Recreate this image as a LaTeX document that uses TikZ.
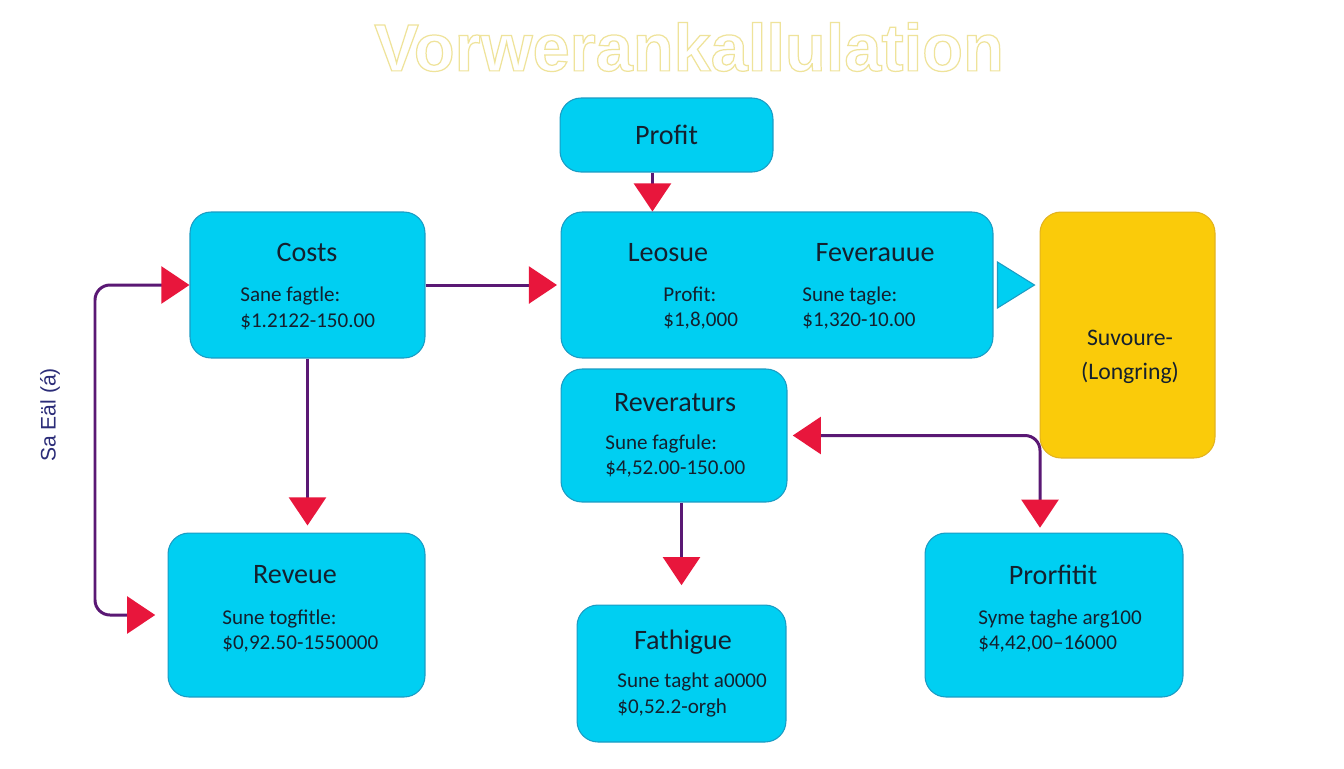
\documentclass[tikz,border=0pt]{standalone}
\usepackage{fontspec}
\setmainfont{Carlito}
\newfontfamily\titlefont{Liberation Sans}
\usetikzlibrary{arrows.meta,calc}
\definecolor{Ink}{HTML}{14202E}
\definecolor{BoxCyan}{HTML}{00CFF2}
\definecolor{BoxEdge}{HTML}{1A9CC4}
\definecolor{BoxGold}{HTML}{FACB0A}
\definecolor{GoldEdge}{HTML}{E3B31E}
\definecolor{Wire}{HTML}{5A1874}
\definecolor{Tip}{HTML}{E8163C}
\definecolor{Pale}{HTML}{EFE39A}
\definecolor{Side}{HTML}{2B2C78}
\newcommand{\hollow}[1]{\special{pdf:literal direct 1 Tr 0.7 w}#1\special{pdf:literal direct 0 Tr}}

\begin{document}
\begin{tikzpicture}[x=0.02cm,y=-0.02cm,
  box/.style={draw=BoxEdge,fill=BoxCyan,line width=0.6pt,rounded corners=0.42cm,inner sep=0pt},
  head/.style={font=\fontsize{16}{19}\selectfont,text=Ink,inner sep=0pt},
  sub/.style={font=\fontsize{12}{14.7}\selectfont,text=Ink,align=left,anchor=west,inner sep=0pt},
  wire/.style={Wire,line width=1.7pt,-{Triangle[length=16pt,width=21pt,color=Tip]}},
  wires/.style={Wire,line width=1.7pt,{Triangle[length=16pt,width=21pt,color=Tip]}-{Triangle[length=16pt,width=21pt,color=Tip]},rounded corners=0.3cm}]
\useasboundingbox[fill=white] (0,0) rectangle (1344,768);
\node[font=\titlefont\bfseries\fontsize{38}{40}\selectfont,text=Pale] (heading) at (689,47) {\hollow{Vorwerankallulation}};
\node[rotate=90,font=\titlefont\fontsize{12}{14}\selectfont,text=Side] (side) at (50,415) {Sa Eäl (á)};
% boxes
\node[box,minimum width=4.26cm,minimum height=1.48cm,font=\fontsize{16}{19}\selectfont,text=Ink] (profit) at (666.5,135) {Profit};
\node[box,minimum width=4.70cm,minimum height=2.92cm] (costs) at (307.5,285) {};
\node[box,minimum width=8.64cm,minimum height=2.92cm] (lease) at (777,285) {};
\node[box,draw=GoldEdge,fill=BoxGold,minimum width=3.50cm,minimum height=4.92cm] (store) at (1127.5,335) {};
\node[box,minimum width=4.52cm,minimum height=2.66cm] (rever) at (674,435.5) {};
\node[box,minimum width=5.14cm,minimum height=3.28cm] (reveue) at (296.5,615) {};
\node[box,minimum width=4.18cm,minimum height=2.74cm] (fathigue) at (681.5,673.5) {};
\node[box,minimum width=5.16cm,minimum height=3.28cm] (profitit) at (1054,615) {};
% texts
\node[head] (costs-t) at (307,252) {Costs};
\node[sub] (costs-s) at (240,308) {Sane fagtle:\\\$1.2122-150.00};
\node[head] (lease-t) at (668,253) {Leosue};
\node[head] (lease-u) at (875,253) {Feverauue};
\node[sub] (lease-s) at (663,308) {Profit:\\\$1,8,000};
\node[sub] (lease-v) at (802,308) {Sune tagle:\\\$1,320-10.00};
\node[font=\fontsize{13.5}{19}\selectfont,text=Ink,align=center,inner sep=0pt] (store-t) at (1130,357) {Suvoure-\\(Longring)};
\node[head] (rever-t) at (675,403) {Reveraturs};
\node[sub] (rever-s) at (605,456) {Sune fagfule:\\\$4,52.00-150.00};
\node[head] (reveue-t) at (295,575) {Reveue};
\node[sub] (reveue-s) at (222,631) {Sune togfitle:\\\$0,92.50-1550000};
\node[head] (fathigue-t) at (683,642) {Fathigue};
\node[sub] (fathigue-s) at (617,695) {Sune taght a0000\\\$0,52.2-orgh};
\node[head] (profitit-t) at (1053,575) {Prorfitit};
\node[sub] (profitit-s) at (978,631) {Syme taghe arg100\\\$4,42,00--16000};
% connectors
\coordinate (bend) at (95,615);
\coordinate (drop) at (1040,533);
\draw[wire] ([xshift=-8]profit.south) -- ([xshift=-8]profit.south |- lease.north);
\draw[wire,shorten >=2pt] (costs.east) -- (lease.west);
\draw[wire,shorten >=4pt] (costs.south) -- (costs.south |- reveue.north);
\draw[wires,shorten >=7pt] (costs.west) -| (bend) -- (reveue.west);
\draw[wire,shorten >=11pt] (fathigue.north |- rever.south) -- (fathigue.north);
\draw[wires,shorten <=3pt,shorten >=3pt] (rever.east) -| (drop);
\filldraw[fill=BoxCyan,draw=BoxEdge,line width=0.6pt] ($(lease.east)+(4,-23)$) -- ($(lease.east)+(41,0)$) -- ($(lease.east)+(4,23)$) -- cycle;
\end{tikzpicture}
\end{document}
